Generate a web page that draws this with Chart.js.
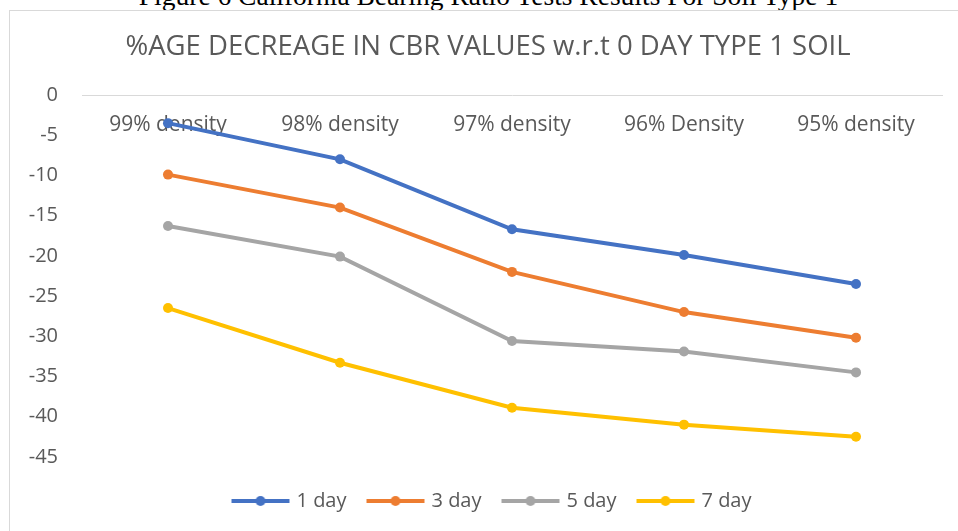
<!DOCTYPE html>
<html>
<head>
<meta charset="utf-8">
<script src="https://cdn.jsdelivr.net/npm/chart.js@4/dist/chart.umd.min.js"></script>
<style>
  html, body { margin: 0; padding: 0; background: #ffffff; overflow: hidden; }
  #wrap { position: relative; width: 958px; height: 531px; overflow: hidden; }
  #caption { position: absolute; left: 0; top: -18px; width: 977px; text-align: center;
    font-family: "Liberation Serif", serif; font-size: 27.5px; line-height: 27.5px; color: #000; white-space: nowrap; }
  #frame { position: absolute; left: 9px; top: 10px; width: 1000px; height: 600px;
    border: 1px solid #d9d9d9; box-sizing: border-box; }
  #c { position: absolute; left: 0; top: 0; }
</style>
</head>
<body>
<div id="wrap">
  <div id="caption">Figure 6 California Bearing Ratio Tests Results For Soil Type 1</div>
  <div id="frame"></div>
  <canvas id="c" width="958" height="531"></canvas>
</div>
<script>
const chartTitle = '%AGE DECREAGE IN CBR VALUES w.r.t 0 DAY TYPE 1 SOIL';
const categories = ['99% density', '98% density', '97% density', '96% Density', '95% density'];
const seriesNames = ['1 day', '3 day', '5 day', '7 day'];
const day1 = [-3.5, -8.0, -16.7, -19.9, -23.5];
const day3 = [-9.9, -14.0, -22.0, -27.0, -30.2];
const day5 = [-16.3, -20.1, -30.6, -31.9, -34.5];
const day7 = [-26.5, -33.3, -38.9, -41.0, -42.5];
const colors = ['#4472C4', '#ED7D31', '#A5A5A5', '#FFC000'];
const yMin = -45, yMax = 0, yStep = 5;

const seriesValues = [day1, day3, day5, day7];

function legendIcon(color) {
  const cv = document.createElement('canvas');
  cv.width = 62; cv.height = 14;
  const g = cv.getContext('2d');
  g.strokeStyle = color; g.lineWidth = 4; g.lineCap = 'butt';
  g.beginPath(); g.moveTo(2, 7); g.lineTo(60, 7); g.stroke();
  g.fillStyle = color;
  g.beginPath(); g.arc(31, 7, 5, 0, Math.PI * 2); g.fill();
  return cv;
}
const icons = colors.map(legendIcon);

const shiftPlugin = {
  id: 'shiftBlocks',
  afterLayout(chart) {
    if (chart.legend) { chart.legend.left += 22; chart.legend.right += 22; }
    if (chart.titleBlock) { chart.titleBlock.left += 17; chart.titleBlock.right += 17; }
  }
};

Chart.defaults.font.family = '"Open Sans", sans-serif';
Chart.defaults.color = '#595959';

new Chart(document.getElementById('c'), {
  type: 'line',
  data: {
    labels: categories,
    datasets: seriesValues.map((vals, i) => ({
      label: seriesNames[i],
      data: vals,
      borderColor: colors[i],
      backgroundColor: colors[i],
      borderWidth: 4,
      pointRadius: 5,
      pointBorderWidth: 0,
      pointBackgroundColor: colors[i],
      tension: 0,
      fill: false
    }))
  },
  plugins: [shiftPlugin],
  options: {
    responsive: false,
    animation: false,
    devicePixelRatio: 1,
    layout: { padding: { left: 0, right: 16, top: 0, bottom: 10 } },
    plugins: {
      title: {
        display: true,
        text: chartTitle,
        color: '#595959',
        font: { size: 27.5, weight: 'normal' },
        padding: { top: 31, bottom: 31 }
      },
      legend: {
        position: 'bottom',
        title: { display: true, text: ' ', font: { size: 1 }, padding: { top: 10, bottom: 0 } },
        labels: {
          usePointStyle: true,
          pointStyleWidth: 52,
          boxHeight: 14,
          padding: 23,
          color: '#595959',
          font: { size: 20 },
          generateLabels(chart) {
            const items = Chart.defaults.plugins.legend.labels.generateLabels(chart);
            items.forEach((it, i) => { it.pointStyle = icons[i]; });
            return items;
          }
        }
      },
      tooltip: { enabled: false }
    },
    scales: {
      x: {
        type: 'category',
        position: { y: 0 },
        offset: true,
        grid: { display: false, drawTicks: false },
        border: { display: true, color: '#d9d9d9', width: 1 },
        ticks: { padding: 17, font: { size: 21 }, color: '#595959', maxRotation: 0, autoSkip: false }
      },
      y: {
        min: yMin,
        max: yMax,
        grid: { display: false, drawTicks: false },
        border: { display: false },
        ticks: { stepSize: yStep, padding: 24, font: { size: 20 }, color: '#595959' },
        afterFit(scale) { scale.width = 82; }
      }
    }
  }
});
</script>
</body>
</html>
